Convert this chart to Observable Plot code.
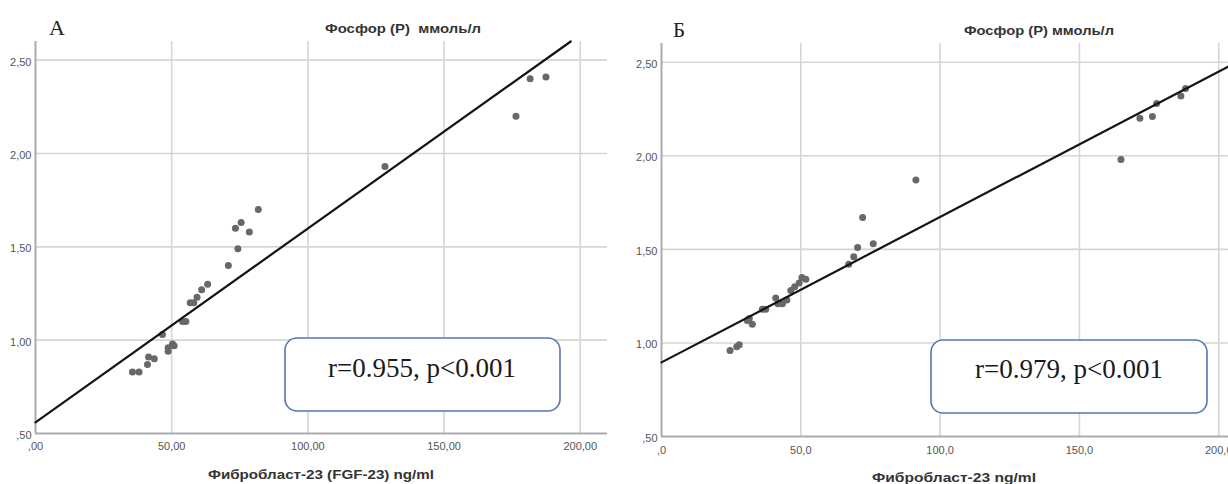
<!DOCTYPE html>
<html>
<head>
<meta charset="utf-8">
<script src="https://cdn.jsdelivr.net/npm/d3@7"></script>
<script src="https://cdn.jsdelivr.net/npm/@observablehq/plot@0.6"></script>
<style>
  html, body { margin: 0; padding: 0; background: #fff; }
  #wrap { position: relative; width: 1228px; height: 484px; overflow: hidden; background: #fff; }
  #p1, #p2 { position: absolute; top: 0; }
  #p1 { left: 0; }
  #p2 { left: 614px; }
  #ann { position: absolute; left: 0; top: 0; }
  #ann text { white-space: pre; }
</style>
</head>
<body>
<div id="wrap">
  <div id="p1"></div>
  <div id="p2"></div>
  <svg id="ann" width="1228" height="484"></svg>
</div>
<script>
// ---- Panel A data (FGF-23 ng/ml vs Phosphorus mmol/l)
const xA = [35.6, 38.0, 41.1, 41.5, 43.6, 46.6, 48.7, 48.7, 50.3, 50.9, 54.0, 55.2, 56.8, 58.1, 59.3, 61.0, 63.2, 70.8, 74.3, 73.4, 75.5, 78.5, 81.8, 128.3, 176.4, 181.6, 187.4];
const yA = [0.83, 0.83, 0.87, 0.91, 0.90, 1.03, 0.94, 0.96, 0.98, 0.97, 1.10, 1.10, 1.20, 1.20, 1.23, 1.27, 1.30, 1.40, 1.49, 1.60, 1.63, 1.58, 1.70, 1.93, 2.20, 2.40, 2.41];
const fitAX = [0, 196.5];
const fitAY = [0.56, 2.60];

// ---- Panel B data
const xB = [24.6, 27.0, 27.9, 30.8, 31.5, 32.6, 36.2, 37.4, 41.0, 41.8, 43.4, 45.0, 46.4, 47.8, 49.4, 50.4, 51.8, 67.2, 69.0, 70.4, 72.2, 76.0, 91.3, 164.9, 171.7, 176.2, 177.7, 186.4, 188.1];
const yB = [0.96, 0.98, 0.99, 1.12, 1.13, 1.10, 1.18, 1.18, 1.24, 1.21, 1.21, 1.23, 1.28, 1.30, 1.32, 1.35, 1.34, 1.42, 1.46, 1.51, 1.67, 1.53, 1.87, 1.98, 2.20, 2.21, 2.28, 2.32, 2.36];
const fitBX = [0, 203.5];
const fitBY = [0.896, 2.477];

// ---- Ticks
const xTicks = [0, 50, 100, 150, 200];
const xTickLabelsA = [",00", "50,00", "100,00", "150,00", "200,00"];
const xTickLabelsB = [",0", "50,0", "100,0", "150,0", "200,0"];
const yTicks = [0.5, 1, 1.5, 2, 2.5];
const yTickLabels = [",50", "1,00", "1,50", "2,00", "2,50"];

// ---- Texts
const panelLetters = ["А", "Б"];
const yTitle = ["Фосфор (P)  ммоль/л", "Фосфор (P) ммоль/л"];
const xTitle = ["Фибробласт-23 (FGF-23) ng/ml", "Фибробласт-23 ng/ml"];
const statText = ["r=0.955, p<0.001", "r=0.979, p<0.001"];

const GRID = "#d6d6d6";
const AXIS = "#ababab";
const DOT = "#686868";
const TICK = "#555555";
const SANS = "'Liberation Sans', Arial, sans-serif";
const SERIF = "'Liberation Serif', 'Times New Roman', serif";

function panel({xs, ys, fx, fy, xDomain, xLabels, ml, mr, mt, mb, xPad}) {
  const pts = xs.map((x, i) => ({x, y: ys[i]}));
  const fit = fx.map((x, i) => ({x, y: fy[i]}));
  return Plot.plot({
    width: 614,
    height: 484,
    marginLeft: ml, marginRight: mr, marginTop: mt, marginBottom: mb,
    style: {fontFamily: SANS, fontSize: "11px", color: TICK, background: "transparent", overflow: "visible"},
    x: {domain: xDomain},
    y: {domain: [0.5, 2.6]},
    marks: [
      Plot.gridX(xTicks.slice(1), {stroke: GRID, strokeOpacity: 1, strokeWidth: 1.6}),
      Plot.gridY(yTicks.slice(1), {stroke: GRID, strokeOpacity: 1, strokeWidth: 1.6}),
      Plot.ruleX([0], {stroke: AXIS, strokeWidth: 2}),
      Plot.ruleY([0.5], {stroke: AXIS, strokeWidth: 2}),
      Plot.axisX(xTicks, {tickSize: 0, tickPadding: xPad, label: null,
        tickFormat: d => xLabels[xTicks.indexOf(d)], fill: TICK}),
      Plot.axisY(yTicks, {tickSize: 0, tickPadding: 4, dy: 2, label: null,
        tickFormat: d => yTickLabels[yTicks.indexOf(d)], fill: TICK}),
      Plot.dot(pts, {x: "x", y: "y", r: 3.5, fill: DOT, stroke: "none"}),
      Plot.line(fit, {x: "x", y: "y", stroke: "#141414", strokeWidth: 2.2})
    ]
  });
}

document.getElementById("p1").append(panel({
  xs: xA, ys: yA, fx: fitAX, fy: fitAY, xDomain: [0, 210], xLabels: xTickLabelsA,
  ml: 35, mr: 7, mt: 41, mb: 51, xPad: 9
}));
document.getElementById("p2").append(panel({
  xs: xB, ys: yB, fx: fitBX, fy: fitBY, xDomain: [0, 203.5], xLabels: xTickLabelsB,
  ml: 47, mr: 0, mt: 43, mb: 48, xPad: 10
}));

// ---- Annotations (letters, titles, stat boxes)
const ann = d3.select("#ann");
const boxes = [
  {x: 285, y: 338, w: 275, h: 73, tx: 422, ty: 377},
  {x: 931, y: 340, w: 276, h: 73, tx: 1069, ty: 378}
];
boxes.forEach((b, i) => {
  ann.append("rect").attr("x", b.x).attr("y", b.y).attr("width", b.w).attr("height", b.h)
    .attr("rx", 12).attr("ry", 12).attr("fill", "#fff").attr("stroke", "#5576b8").attr("stroke-width", 1.6);
  ann.append("text").attr("x", b.tx).attr("y", b.ty).attr("text-anchor", "middle")
    .attr("font-family", SERIF).attr("font-size", 27).attr("fill", "#1a1a1a").text(statText[i]);
});
const letterPos = [{x: 49, y: 35, s: 22}, {x: 673, y: 37, s: 21}];
letterPos.forEach((p, i) => {
  ann.append("text").attr("x", p.x).attr("y", p.y).attr("font-family", SERIF)
    .attr("font-size", p.s).attr("fill", "#222").text(panelLetters[i]);
});
const titlePos = [{x: 403, y: 33, w: 156}, {x: 1039, y: 35, w: 150}];
titlePos.forEach((p, i) => {
  ann.append("text").attr("x", p.x).attr("y", p.y).attr("text-anchor", "middle")
    .attr("font-family", SANS).attr("font-weight", "bold").attr("font-size", 13)
    .attr("textLength", p.w).attr("lengthAdjust", "spacingAndGlyphs")
    .attr("fill", "#333").text(yTitle[i]);
});
const xtPos = [{x: 321, y: 479, w: 226}, {x: 954, y: 482, w: 164}];
xtPos.forEach((p, i) => {
  ann.append("text").attr("x", p.x).attr("y", p.y).attr("text-anchor", "middle")
    .attr("font-family", SANS).attr("font-weight", "bold").attr("font-size", 13)
    .attr("textLength", p.w).attr("lengthAdjust", "spacingAndGlyphs")
    .attr("fill", "#333").text(xTitle[i]);
});
</script>
</body>
</html>
